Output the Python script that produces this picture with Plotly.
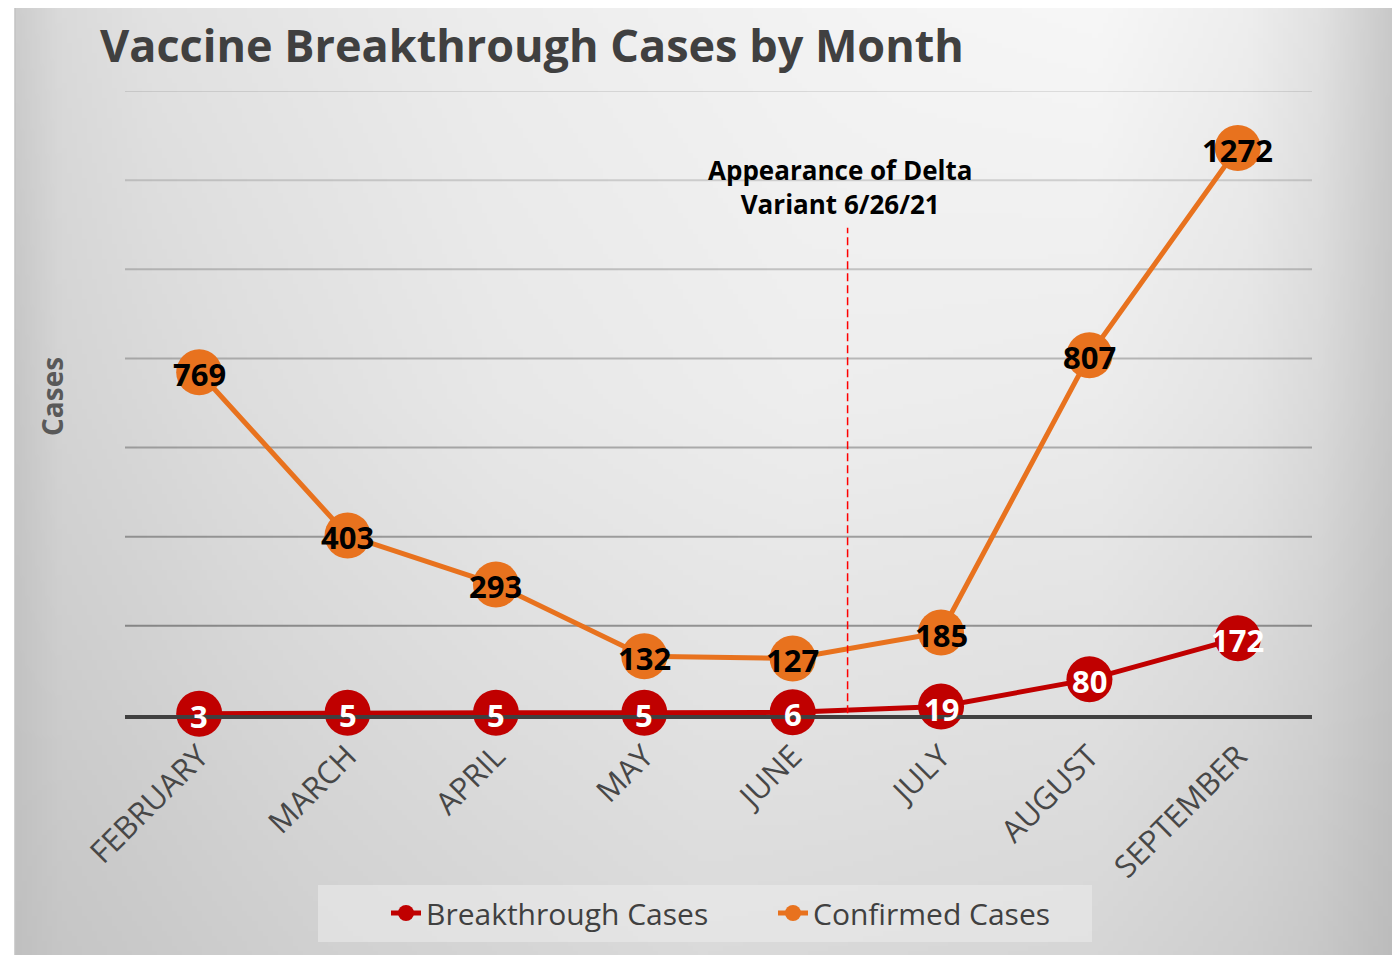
import base64
import struct
import zlib

import numpy as np
import plotly.graph_objects as go

# ---------------- data ----------------
months = ["FEBRUARY", "MARCH", "APRIL", "MAY", "JUNE", "JULY", "AUGUST", "SEPTEMBER"]
breakthrough_cases = [3, 5, 5, 5, 6, 19, 80, 172]
confirmed_cases = [769, 403, 293, 132, 127, 185, 807, 1272]
grid_values = [200, 400, 600, 800, 1000, 1200, 1400]
delta_position = 4.37          # 6/26/21, between JUNE and JULY
delta_label = "Appearance of Delta<br>Variant 6/26/21"

# ---------------- geometry ----------------
# the page body has an 8px margin, so the figure starts at (8, 8) in the window
OFF = 8
FIG_W, FIG_H = 1400 - OFF, 955 - OFF
ML = 125 - OFF
MT = 91 - OFF
MR = FIG_W - (1312 - OFF)
MB = FIG_H - (715 - OFF)
PW = FIG_W - ML - MR
PH = FIG_H - MT - MB


def pxx(px):
    """window x pixel -> paper x"""
    return (px - OFF - ML) / PW


def pxy(py):
    """window y pixel -> paper y"""
    return (FIG_H - MB - (py - OFF)) / PH


# ---------------- background gradient (PNG built in pure python) ----------------
def png_data_uri(arr):
    h, w = arr.shape
    arr = np.clip(arr, 0, 255).astype(np.uint8)
    raw = b"".join(b"\x00" + arr[i].tobytes() for i in range(h))

    def chunk(tag, data):
        c = struct.pack(">I", len(data)) + tag + data
        return c + struct.pack(">I", zlib.crc32(tag + data) & 0xFFFFFFFF)

    png = (b"\x89PNG\r\n\x1a\n"
           + chunk(b"IHDR", struct.pack(">IIBBBBB", w, h, 8, 0, 0, 0, 0))
           + chunk(b"IDAT", zlib.compress(raw, 9))
           + chunk(b"IEND", b""))
    return "data:image/png;base64," + base64.b64encode(png).decode()


GW, GH = 276, 190
gx = 15 + (np.arange(GW) + 0.5) * 1380 / GW
gy = 5 + (np.arange(GH) + 0.5) * 950 / GH
top_row = np.interp(gx, [15, 60, 150, 480, 900, 1100, 1250, 1320, 1395],
                    [205, 218, 226, 237, 245, 247, 238, 226, 200])
mid_row = np.interp(gx, [15, 60, 240, 500, 800, 1100, 1250, 1320, 1395],
                    [198, 212, 222, 232, 238, 236, 228, 218, 198])
bot_row = np.interp(gx, [15, 60, 300, 700, 1100, 1250, 1320, 1395],
                    [192, 198, 208, 218, 214, 206, 200, 188])
rows = np.vstack([top_row, mid_row, bot_row])
grad = np.empty((GH, GW))
for j in range(GW):
    grad[:, j] = np.interp(gy, [5, 400, 955], rows[:, j])
bg_uri = png_data_uri(grad)

FONT = "Open Sans"
RED = "#C00000"
ORANGE = "#E8721E"

fig = go.Figure()

fig.add_trace(go.Scatter(
    x=months, y=breakthrough_cases, name="Breakthrough Cases",
    mode="lines+markers",
    line=dict(color=RED, width=5),
    marker=dict(color=RED, size=46, line=dict(width=0)),
    cliponaxis=False,
))
fig.add_trace(go.Scatter(
    x=months, y=confirmed_cases, name="Confirmed Cases",
    mode="lines+markers",
    line=dict(color=ORANGE, width=5),
    marker=dict(color=ORANGE, size=46, line=dict(width=0)),
    cliponaxis=False,
))

# data labels, centred on the markers
annotations = []
for series, colour in ((breakthrough_cases, "white"), (confirmed_cases, "black")):
    for m, v in zip(months, series):
        annotations.append(dict(
            x=m, y=v, xref="x", yref="y", text=f"<b>{v}</b>", showarrow=False,
            xanchor="center", yanchor="middle", yshift=-2,
            font=dict(family=FONT, size=31, color=colour)))

annotations += [
    dict(text="<b>Cases</b>", xref="paper", yref="paper",
         x=pxx(52), y=pxy(397), xanchor="center", yanchor="middle",
         textangle=-90, showarrow=False,
         font=dict(family=FONT, size=28, color="#595959")),
    dict(text="<b>" + delta_label + "</b>", xref="x", yref="y",
         x=4.32, y=1185, xanchor="center", yanchor="middle",
         showarrow=False, align="center",
         font=dict(family=FONT, size=26, color="black")),
]

shapes = []
# frame
shapes.append(dict(type="rect", xref="paper", yref="paper",
                   x0=pxx(15), x1=pxx(1395), y0=pxy(958), y1=pxy(5),
                   line=dict(color="#c2c2c2", width=1.5), layer="below"))
# legend box
shapes.append(dict(type="rect", xref="paper", yref="paper",
                   x0=pxx(318), x1=pxx(1092), y0=pxy(942), y1=pxy(885),
                   fillcolor="rgba(236,236,236,0.55)", line=dict(width=0), layer="below"))
# gridlines
for v in grid_values:
    a = 0.10 + (1400 - v) / 1200 * 0.26
    shapes.append(dict(type="line", xref="paper", yref="y", x0=0, x1=1, y0=v, y1=v,
                       line=dict(color=f"rgba(0,0,0,{a:.3f})", width=2), layer="below"))
# delta variant marker line
shapes.append(dict(type="line", xref="x", yref="y",
                   x0=delta_position, x1=delta_position, y0=-50, y1=1093,
                   line=dict(color="#FF0000", width=1.5, dash="8px,4px"), layer="above"))

fig.update_layout(
    width=FIG_W, height=FIG_H,
    margin=dict(l=ML, r=MR, t=MT, b=MB, pad=0),
    paper_bgcolor="white",
    plot_bgcolor="rgba(0,0,0,0)",
    font=dict(family=FONT, color="#404040"),
    title=dict(text="<b>Vaccine Breakthrough Cases by Month</b>",
               x=(100 - OFF) / FIG_W, xanchor="left", xref="container",
               y=1 - (46 - OFF) / FIG_H, yanchor="middle", yref="container",
               font=dict(family=FONT, size=45, color="#404040")),
    xaxis=dict(type="category", range=[-0.5, 7.5], tickangle=-45,
               showgrid=False, zeroline=False,
               showline=True, linecolor="#404040", linewidth=3.5,
               ticks="", ticklabelstandoff=7,
               tickfont=dict(family=FONT, size=31, color="#474747")),
    yaxis=dict(range=[0, 1400], showgrid=False, zeroline=False,
               showticklabels=False, ticks="", showline=False),
    showlegend=True,
    legend=dict(orientation="h", x=pxx(386), xanchor="left",
                y=pxy(913), yanchor="middle",
                bgcolor="rgba(0,0,0,0)", borderwidth=0,
                font=dict(family=FONT, size=30, color="#404040"),
                entrywidth=342, entrywidthmode="pixels"),
    shapes=shapes,
    images=[dict(source=bg_uri, xref="paper", yref="paper",
                 x=pxx(15), y=pxy(5), sizex=1380 / PW, sizey=953 / PH,
                 xanchor="left", yanchor="top", sizing="stretch", layer="below")],
    annotations=annotations,
)

fig.write_html("out.html")
